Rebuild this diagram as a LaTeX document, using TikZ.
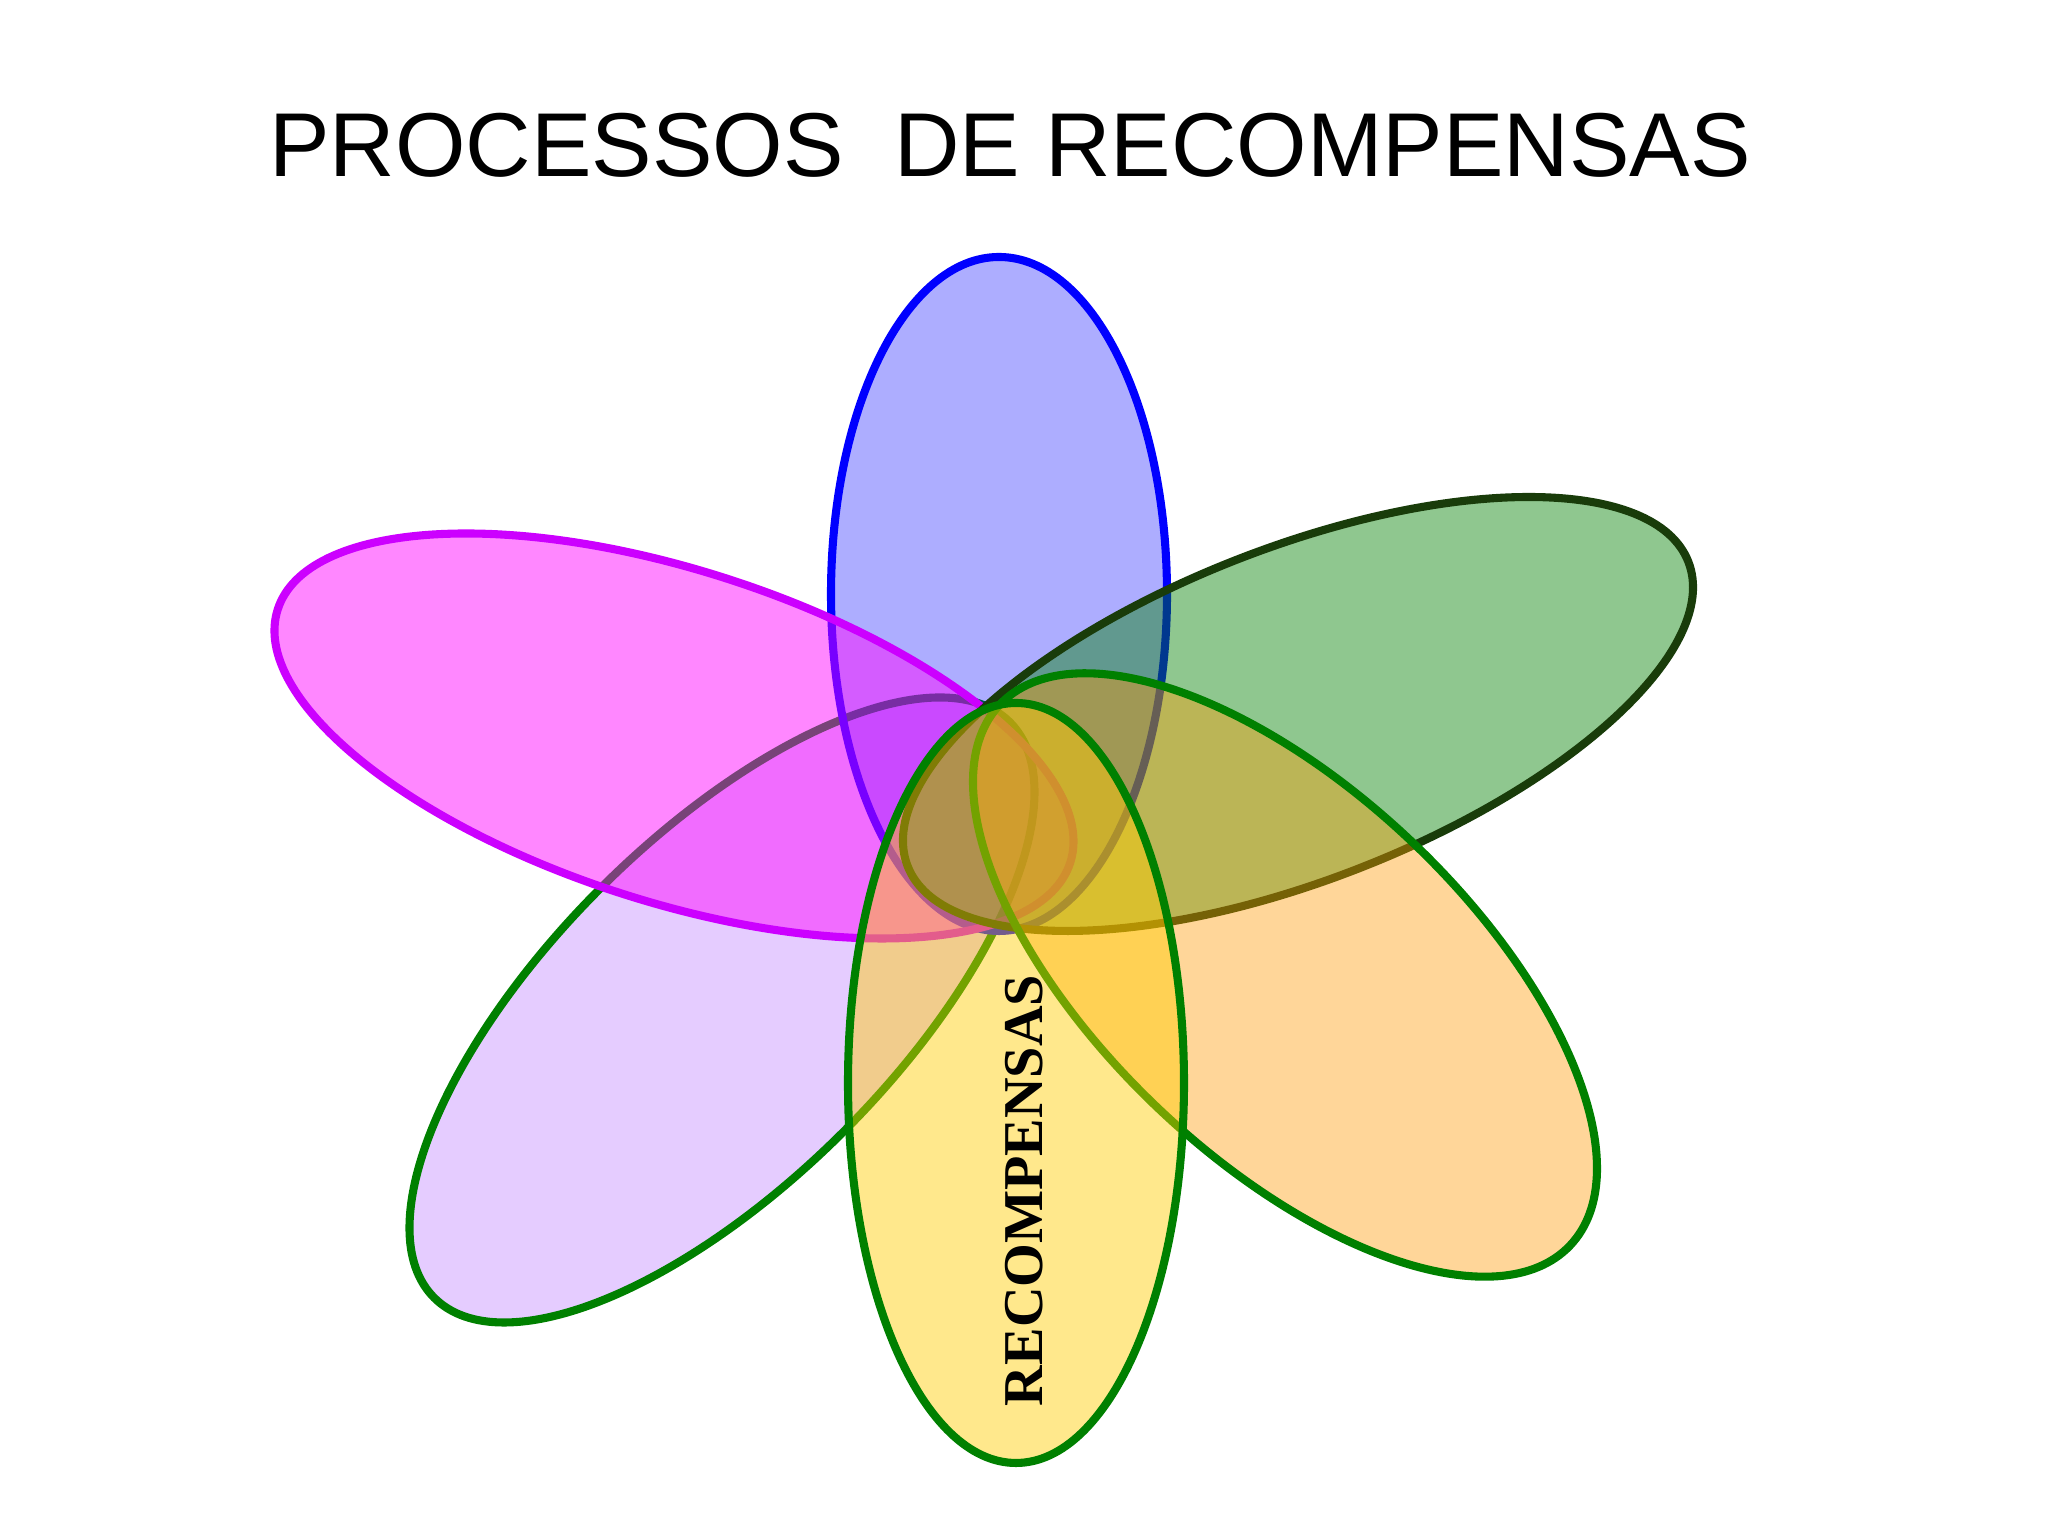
\documentclass[tikz,border=0pt]{standalone}
\usepackage{fontspec}
\usepackage{xcolor}
\usepackage{tikz}
\setmainfont{Liberation Serif}
\setsansfont{Liberation Sans}
\definecolor{rewardblue}{RGB}{0, 0, 255}
\definecolor{rewardmagenta}{RGB}{204, 0, 255}
\definecolor{rewardpink}{RGB}{255, 0, 255}
\definecolor{rewardgreen}{RGB}{0, 128, 0}
\definecolor{rewarddark}{RGB}{25, 60, 10}
\definecolor{rewardorange}{RGB}{255, 153, 0}
\definecolor{rewardlilac}{RGB}{153, 51, 255}
\definecolor{rewardgold}{RGB}{255, 204, 0}

\begin{document}
\begin{tikzpicture}
    % Styles
    \tikzstyle{petal} = [line width=2.3pt]
    \tikzstyle{heading} = [font=\sffamily\fontsize{25.8}{31}\selectfont]
    \tikzstyle{petaltext} = [font=\bfseries\fontsize{16}{19}\selectfont, rotate=90]

    \useasboundingbox (0,0) rectangle (20.48,15.36);

    % Title
    \node [heading] (titulo) at (10.10,13.91) {PROCESSOS~~DE RECOMPENSAS};

    % Petals
    \draw [petal, draw=rewardgreen, fill=rewardlilac, fill opacity=0.25, rotate around={45:(7.22,5.26)}] (7.22,5.26) ellipse (4.07 and 1.72);
    \draw [petal, draw=rewardblue, fill=rewardblue, fill opacity=0.32] (9.99,9.42) ellipse (1.68 and 3.37);
    \draw [petal, draw=rewardmagenta, fill=rewardpink, fill opacity=0.47, rotate around={-17.7:(6.74,8.00)}] (6.74,8.00) ellipse (4.16 and 1.66);
    \draw [petal, draw=rewarddark, fill=rewardgreen, fill opacity=0.44, rotate around={21.3:(12.98,8.22)}] (12.98,8.22) ellipse (4.19 and 1.66);
    \draw [petal, draw=rewardgreen, fill=rewardorange, fill opacity=0.40, rotate around={-43.5:(12.85,5.61)}] (12.85,5.61) ellipse (3.93 and 1.84);
    \draw [petal, draw=rewardgreen, fill=rewardgold, fill opacity=0.45] (10.16,4.53) ellipse (1.68 and 3.80);

    % Label
    \node [petaltext] (recompensas) at (10.24,3.455) {RECOMPENSAS};
\end{tikzpicture}
\end{document}
